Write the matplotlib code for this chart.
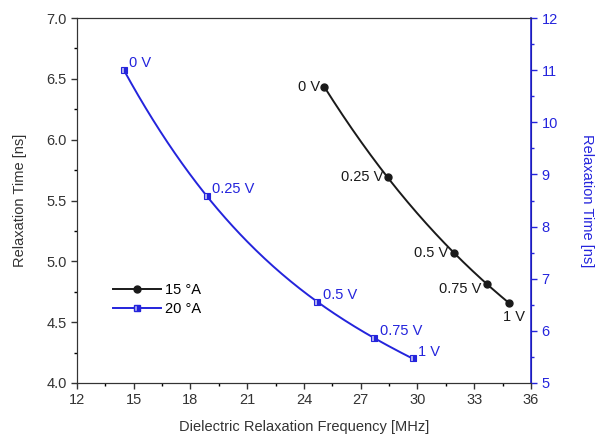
import numpy as np
import matplotlib
matplotlib.use("Agg")
import matplotlib.pyplot as plt
from matplotlib.ticker import MultipleLocator

plt.rcParams['font.family'] = ['Liberation Sans', 'DejaVu Sans']

voltages = ["0 V", "0.25 V", "0.5 V", "0.75 V", "1 V"]
freq_15 = [25.07, 28.42, 31.93, 33.69, 34.82]
tau_15 = [6.435, 5.69, 5.07, 4.81, 4.66]
freq_20 = [14.48, 18.85, 24.70, 27.71, 29.74]
tau_20 = [11.0, 8.59, 6.56, 5.86, 5.47]

BLUE = '#2424dc'
BLACK = '#1a1a1a'
FS = 10.5

fig = plt.figure(figsize=(6.06, 4.43), dpi=100)
ax = fig.add_axes([77/606, 1-383/443, (531-77)/606, (383-18)/443])
ax2 = ax.twinx()

def smooth(x, y, deg=3):
    x = np.asarray(x); y = np.asarray(y)
    c = np.polyfit(x, y, deg)
    xs = np.linspace(x.min(), x.max(), 200)
    return xs, np.polyval(c, xs)

xs, ys = smooth(freq_15, tau_15)
ax.plot(xs, ys, color=BLACK, lw=1.4, zorder=2)
ax.plot(freq_15, tau_15, 'o', color=BLACK, ms=5, zorder=3)

xs2, ys2 = smooth(freq_20, tau_20)
ax2.plot(xs2, ys2, color=BLUE, lw=1.4, zorder=2)
ax2.plot(freq_20, tau_20, 's', color=BLUE, ms=4.5, fillstyle='right',
         markerfacecoloralt='#b8b8f0', markeredgewidth=0.8, zorder=3)

# labels
offs15 = [(-3, 0, 'right', 'center'), (-3, 0, 'right', 'center'), (-4, 0, 'right', 'center'),
          (-4, -3, 'right', 'center'), (-4, -10, 'left', 'center')]
for v, x, y, (dx, dy, ha, va) in zip(voltages, freq_15, tau_15, offs15):
    ax.annotate(v, (x, y), xytext=(dx, dy), textcoords='offset points',
                ha=ha, va=va, fontsize=FS, color=BLACK)
for v, x, y in zip(voltages, freq_20, tau_20):
    ax2.annotate(v, (x, y), xytext=(4, 5), textcoords='offset points',
                 ha='left', va='center', fontsize=FS, color=BLUE)

ax.set_xlim(12, 36)
ax.set_ylim(4.0, 7.0)
ax2.set_ylim(5, 12)

ax.xaxis.set_major_locator(MultipleLocator(3))
ax.xaxis.set_minor_locator(MultipleLocator(1.5))
ax.yaxis.set_major_locator(MultipleLocator(0.5))
ax.yaxis.set_minor_locator(MultipleLocator(0.25))
ax.yaxis.set_major_formatter(matplotlib.ticker.FormatStrFormatter('%.1f'))
ax2.yaxis.set_major_locator(MultipleLocator(1))
ax2.yaxis.set_minor_locator(MultipleLocator(0.5))

ax.tick_params(axis='both', which='major', direction='out', length=4, width=1,
               labelsize=FS, colors='#333333', top=False, right=False)
ax.tick_params(axis='both', which='minor', direction='out', length=2.5, width=1,
               top=False, right=False)
ax2.tick_params(axis='y', which='major', direction='out', length=4, width=1,
                labelsize=FS, colors=BLUE)
ax2.tick_params(axis='y', which='minor', direction='out', length=2.5, width=1, colors=BLUE)

for s in ['left', 'bottom', 'top']:
    ax.spines[s].set_color('#333333')
    ax2.spines[s].set_color('#333333')
ax2.spines['right'].set_color(BLUE)
ax2.spines['right'].set_linewidth(1.2)

ax.set_xlabel('Dielectric Relaxation Frequency [MHz]', fontsize=FS, color='#333333', labelpad=9)
ax.set_ylabel('Relaxation Time [ns]', fontsize=FS, color='#333333', labelpad=14)
ax2.set_ylabel('Relaxation Time [ns]', fontsize=FS, color=BLUE, rotation=270, labelpad=26)

h1 = plt.Line2D([], [], color=BLACK, marker='o', ms=5, lw=1.4)
h2 = plt.Line2D([], [], color=BLUE, marker='s', ms=4.5, lw=1.4, fillstyle='right',
                markerfacecoloralt='#b8b8f0')
ax2.legend([h1, h2], ['15 °A', '20 °A'], loc='upper left',
           bbox_to_anchor=(0.05, 0.31), frameon=False, fontsize=FS,
           handlelength=3.3, handletextpad=0.3, labelspacing=0.35)

fig.savefig('out.png', dpi=100)
